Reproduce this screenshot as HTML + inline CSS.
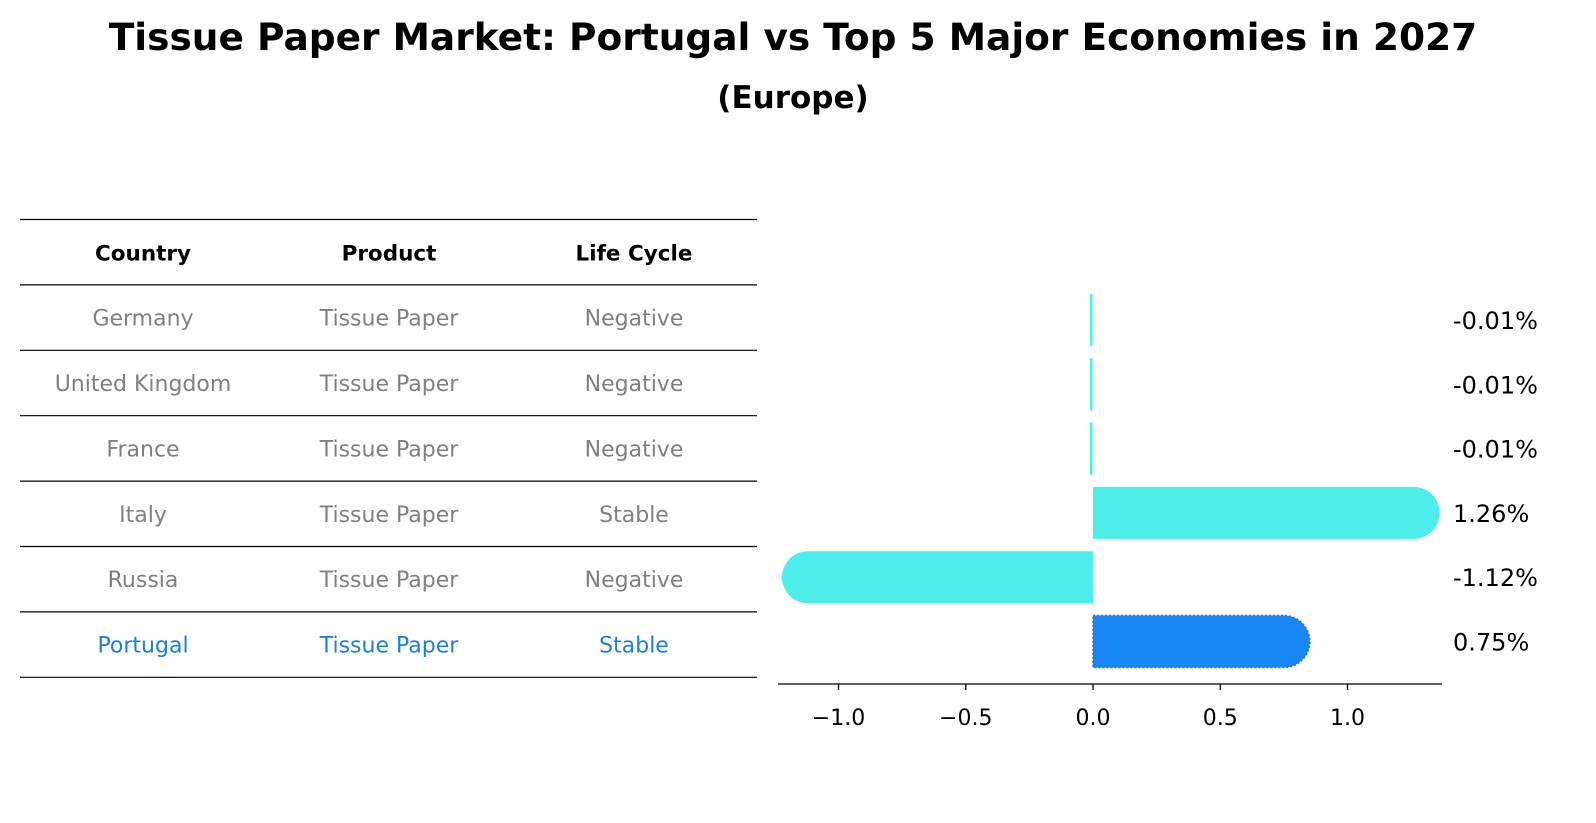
<!DOCTYPE html>
<html><head><meta charset="utf-8"><style>
body{margin:0;background:#fff;font-family:"DejaVu Sans","Liberation Sans",sans-serif;}
#wrap{position:relative;width:1596px;height:823px;overflow:hidden;background:#fff}
</style></head><body>
<div id="wrap">
<svg id="svg" width="1596" height="823" xmlns="http://www.w3.org/2000/svg" font-family="DejaVu Sans, Liberation Sans, sans-serif">
<text x="793" y="50" text-anchor="middle" font-size="37.5" font-weight="bold">Tissue Paper Market: Portugal vs Top 5 Major Economies in 2027</text>
<text x="793" y="108" text-anchor="middle" font-size="31" font-weight="bold">(Europe)</text>
<g id="table"></g>
<g id="bars"></g>
</svg>
</div>
<script>
const countries=["Germany","United Kingdom","France","Italy","Russia","Portugal"];
const products=["Tissue Paper","Tissue Paper","Tissue Paper","Tissue Paper","Tissue Paper","Tissue Paper"];
const lifeCycles=["Negative","Negative","Negative","Stable","Negative","Stable"];
const growthValues=[-0.01,-0.01,-0.01,1.26,-1.12,0.75];
const valueLabels=["-0.01%","-0.01%","-0.01%","1.26%","-1.12%","0.75%"];
const xTicks=[-1.0,-0.5,0.0,0.5,1.0];
const xTickLabels=["\u22121.0","\u22120.5","0.0","0.5","1.0"];

const NS="http://www.w3.org/2000/svg";
function mk(tag,attrs,parent,text){const e=document.createElementNS(NS,tag);for(const k in attrs)e.setAttribute(k,attrs[k]);if(text!==undefined)e.textContent=text;parent.appendChild(e);return e;}
const tbl=document.getElementById('table');
const rowH=65.4, tblTop=219.5, colX=[143,389,634];
for(let i=0;i<=countries.length+1;i++){
  const l=mk('line',{x1:20,x2:757,y1:tblTop+i*rowH,y2:tblTop+i*rowH,stroke:'#000','stroke-width':1.2},tbl);
  
  
}
const heads=["Country","Product","Life Cycle"];
heads.forEach((h,j)=>{const t=mk('text',{x:colX[j],y:tblTop+rowH/2+8.5,'text-anchor':'middle','font-size':21.5,'font-weight':'bold'},tbl,h);
  
  });
countries.forEach((c,i)=>{
  const col=c==="Portugal"?"#1a80e0":"#808080";
  [c,products[i],lifeCycles[i]].forEach((v,j)=>{
    const t=mk('text',{x:colX[j],y:tblTop+(i+1)*rowH+rowH/2+8,'text-anchor':'middle','font-size':22,fill:col},tbl,v);
    
    
  });
});
const x0=1093, scale=254.5;
const xs=v=>x0+v*scale;
const g=document.getElementById('bars');
const rowY=i=>320+i*64.3;
const bh=52, r=26;
growthValues.forEach((v,i)=>{
  const yc=rowY(i), col=countries[i]==="Portugal"?"#1887f5":"#4deeea";
  const xe=xs(v);
  let el;
  if(Math.abs(v)<0.05){
    el=mk('rect',{x:Math.min(x0,xe)-0.5,y:yc-bh/2,width:Math.max(2.5,Math.abs(xe-x0)),height:bh,fill:col},g);
  } else {
    const dir=v>0?1:-1;
    const d=`M${x0},${yc-bh/2} L${xe},${yc-bh/2} A${r},${r} 0 0 ${dir>0?1:0} ${xe},${yc+bh/2} L${x0},${yc+bh/2} Z`;
    el=mk('path',{d:d,fill:col},g);
    if(countries[i]==="Portugal"){el.setAttribute('stroke','#3a6fb0');el.setAttribute('stroke-dasharray','2,2');el.setAttribute('stroke-width','1.5');}
  }
  
  
  const t=mk('text',{x:1453,y:yc+9,'font-size':24},g,valueLabels[i]);
  
  
});
const ax=mk('line',{x1:778,x2:1442,y1:684,y2:684,stroke:'#000','stroke-width':1.3},g);


xTicks.forEach((v,i)=>{
  const tk=mk('line',{x1:xs(v),x2:xs(v),y1:684,y2:690,stroke:'#000','stroke-width':1.3},g);
  
  
  const t=mk('text',{x:xs(v),y:725,'text-anchor':'middle','font-size':22},g,xTickLabels[i]);
  
  
});
</script>
</body></html>
